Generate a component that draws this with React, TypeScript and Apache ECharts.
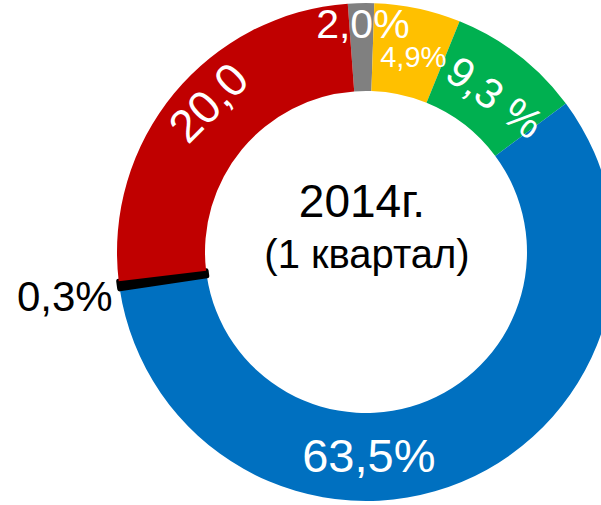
import React, { useEffect, useRef } from 'react';
import * as echarts from 'echarts';

// Slices in clockwise order, starting just left of 12 o'clock
const categories = ['Серый', 'Жёлтый', 'Зелёный', 'Синий', 'Чёрный', 'Красный'];
// Printed labels as they appear on the chart
const labelTexts = ['2,0%', '4,9%', '9,3 %', '63,5%', '0,3%', '20,0'];
// Arc shares (%) as drawn in the picture
const arcShares = [1.7, 5.6, 8.7, 57.8, 0.5, 25.7];
const centerTitle = '2014г.';
const centerSubtitle = '(1 квартал)';

const colors = ['#808080', '#FFC000', '#00B050', '#0070C0', '#000000', '#C00000'];
const FONT = '"Liberation Sans", Arial, sans-serif';

const labelLook = [
  { fontSize: 41, color: '#ffffff', rotate: 0, dx: 1, dy: -20 },
  { fontSize: 29, color: '#ffffff', rotate: 0, dx: 4, dy: 8 },
  { fontSize: 42, color: '#ffffff', rotate: -36, dx: 7, dy: 7 },
  { fontSize: 47, color: '#ffffff', rotate: 0, dx: -77, dy: 11 },
  { fontSize: 42, color: '#000000', rotate: 0, dx: -95, dy: 17 },
  { fontSize: 46, color: '#ffffff', rotate: 45, dx: 14, dy: -10 },
];

export default function App() {
  const ref = useRef<HTMLDivElement>(null);
  useEffect(() => {
    if (!ref.current) return;
    const chart = echarts.init(ref.current, undefined, { renderer: 'svg' });
    chart.setOption({
      animation: false,
      backgroundColor: '#ffffff',
      series: [
        {
          type: 'pie',
          center: [366, 252],
          radius: [161, 249],
          startAngle: 94.2,
          clockwise: true,
          silent: true,
          avoidLabelOverlap: false,
          label: {
            show: true,
            position: 'inside',
            fontFamily: FONT,
            formatter: (p: any) => labelTexts[p.dataIndex],
          },
          labelLine: { show: false },
          labelLayout: (p: any) => ({
            dx: labelLook[p.dataIndex].dx,
            dy: labelLook[p.dataIndex].dy,
          }),
          data: arcShares.map((v, i) => ({
            name: categories[i],
            value: v,
            itemStyle: {
              color: colors[i],
              borderColor: colors[i],
              borderWidth: i === 4 ? 5 : 0,
            },
            label: {
              fontSize: labelLook[i].fontSize,
              color: labelLook[i].color,
              rotate: labelLook[i].rotate,
            },
          })),
        },
      ],
      graphic: [
        {
          type: 'text',
          x: 362,
          y: 201,
          style: {
            text: centerTitle,
            fontSize: 46,
            fontFamily: FONT,
            fill: '#000000',
            textAlign: 'center',
            textVerticalAlign: 'middle',
          },
        },
        {
          type: 'text',
          x: 367,
          y: 254,
          style: {
            text: centerSubtitle,
            fontSize: 40,
            fontFamily: FONT,
            fill: '#000000',
            textAlign: 'center',
            textVerticalAlign: 'middle',
          },
        },
      ],
    });
    return () => chart.dispose();
  }, []);
  return (
    <div
      ref={ref}
      style={{ position: 'fixed', left: 0, top: 0, width: 601, height: 505 }}
    />
  );
}
